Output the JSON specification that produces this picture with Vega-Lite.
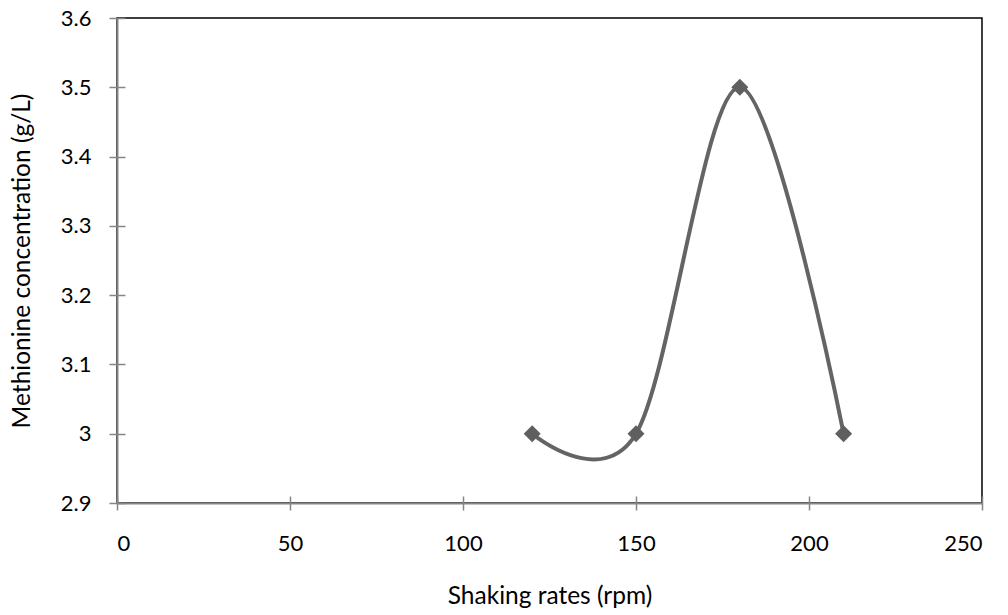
{
  "$schema": "https://vega.github.io/schema/vega-lite/v6.json",
  "width": 865,
  "height": 485,
  "autosize": "none",
  "padding": {"left": 117, "top": 18, "right": 26, "bottom": 112},
  "background": "white",
  "config": {
    "font": "Lato",
    "view": {"stroke": "black", "strokeWidth": 1.5},
    "axis": {
      "grid": false,
      "domainColor": "#868686",
      "domainWidth": 2,
      "tickColor": "#868686",
      "tickWidth": 1.5,
      "labelFont": "Lato",
      "labelFontSize": 22,
      "labelColor": "black",
      "titleFont": "Lato",
      "titleFontSize": 24.5,
      "titleFontWeight": "normal",
      "titleColor": "black"
    }
  },
  "data": {
    "values": [
      {"rpm": 120, "conc": 3.0},
      {"rpm": 150, "conc": 3.0},
      {"rpm": 180, "conc": 3.5},
      {"rpm": 210, "conc": 3.0}
    ]
  },
  "resolve": {"axis": {"x": "independent", "y": "independent"}},
  "layer": [
    {
      "mark": {"type": "line", "interpolate": "cardinal", "color": "#646464", "strokeWidth": 4},
      "encoding": {
        "x": {
          "field": "rpm", "type": "quantitative",
          "scale": {"domain": [0, 250], "nice": false},
          "axis": {"orient": "bottom", "values": [0, 50, 100, 150, 200, 250], "tickSize": 7, "labelPadding": 23, "title": "Shaking rates (rpm)", "titlePadding": 30}
        },
        "y": {
          "field": "conc", "type": "quantitative",
          "scale": {"domain": [2.9, 3.6], "nice": false, "zero": false},
          "axis": {"orient": "left", "values": [2.9, 3.0, 3.1, 3.2, 3.3, 3.4, 3.5, 3.6], "tickSize": 8, "labelPadding": 18, "labelExpr": "datum.value == 3 ? '3' : format(datum.value, '.1f')", "title": "Methionine concentration (g/L)", "titlePadding": 26}
        }
      }
    },
    {
      "mark": {"type": "point", "shape": "diamond", "filled": true, "color": "#5f5f5f", "size": 290, "opacity": 1},
      "encoding": {
        "x": {
          "field": "rpm", "type": "quantitative",
          "scale": {"domain": [0, 250], "nice": false},
          "axis": {"orient": "bottom", "values": [0, 50, 100, 150, 200, 250], "tickSize": -7, "labels": false, "domain": false, "title": null}
        },
        "y": {
          "field": "conc", "type": "quantitative",
          "scale": {"domain": [2.9, 3.6], "nice": false, "zero": false},
          "axis": {"orient": "left", "values": [2.9, 3.0, 3.1, 3.2, 3.3, 3.4, 3.5, 3.6], "tickSize": -8, "labels": false, "domain": false, "title": null}
        }
      }
    }
  ]
}
